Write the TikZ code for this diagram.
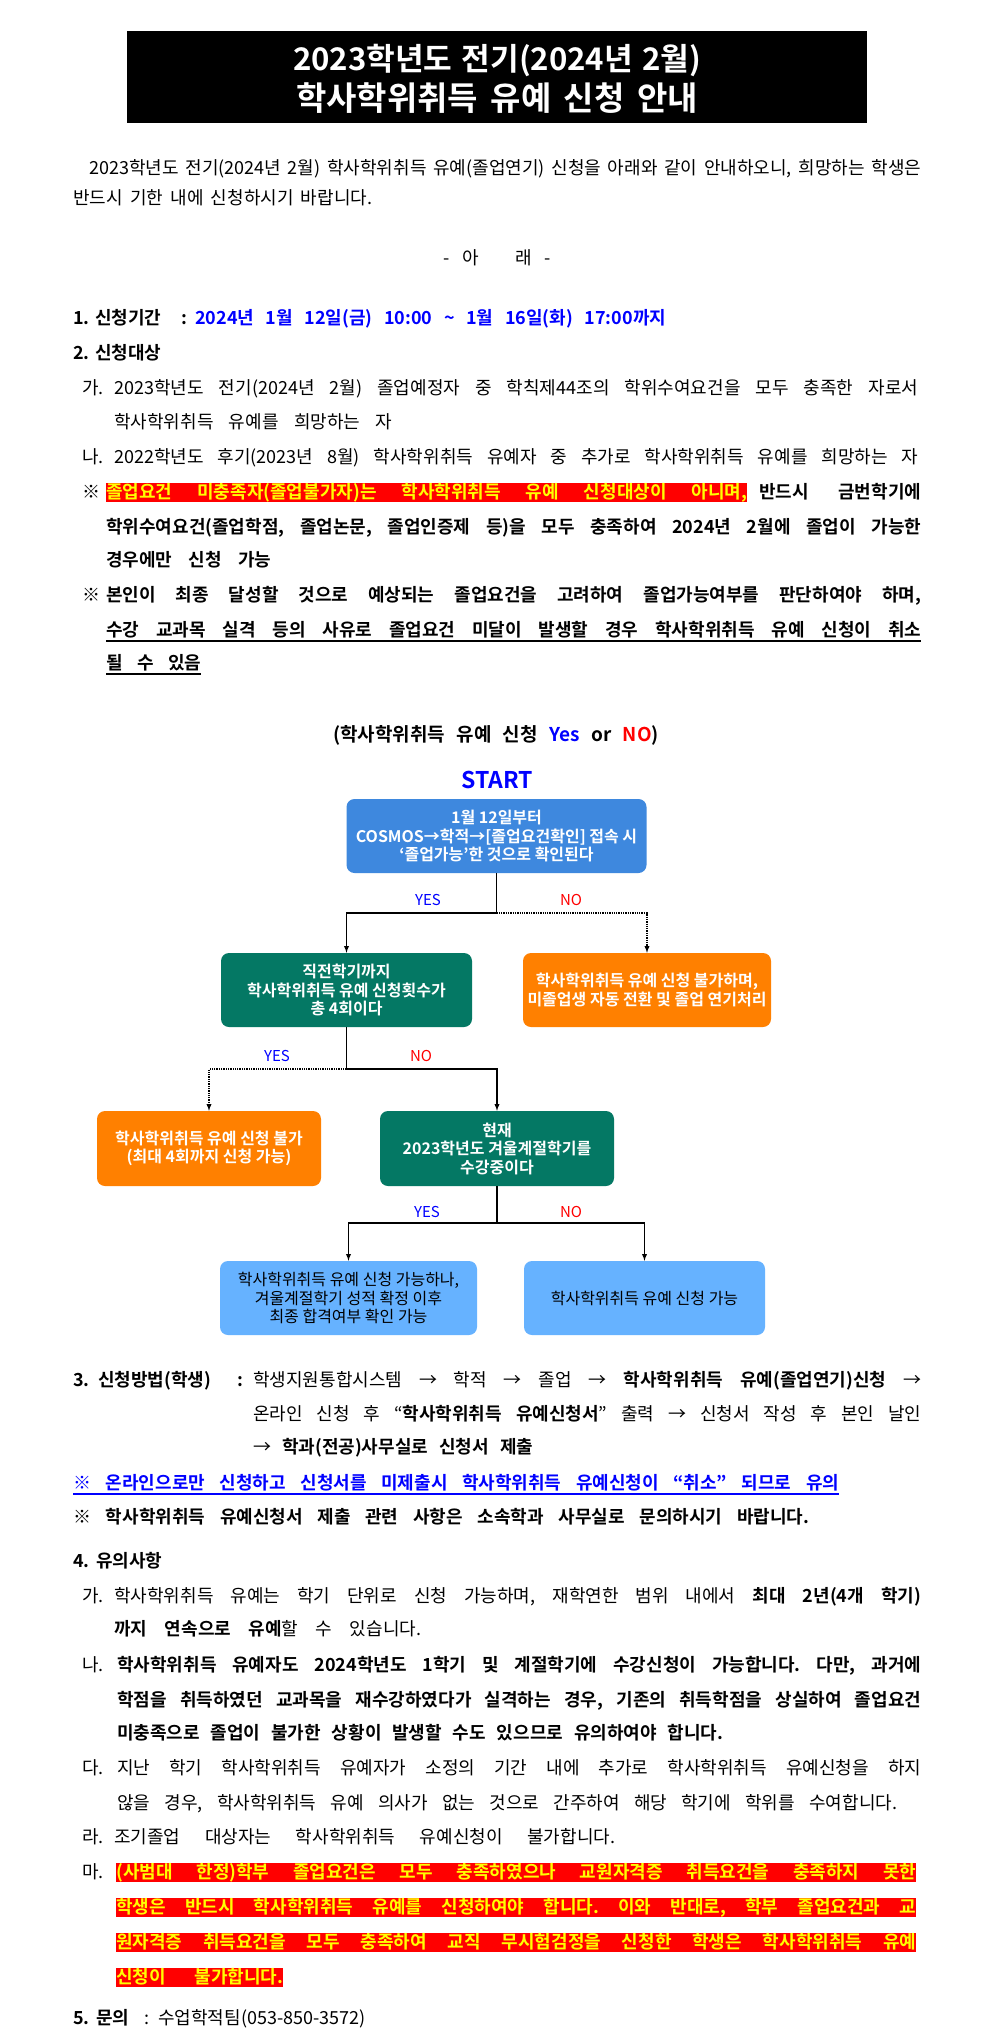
\documentclass[tikz,border=0pt]{standalone}
\usepackage{fontspec}
\setmainfont{Noto Sans CJK KR}[BoldFont={Noto Sans CJK KR Bold}]
\usepackage{xcolor}
\usetikzlibrary{arrows,positioning,calc}
\definecolor{flowblue}{RGB}{62,136,222}
\definecolor{flowgreen}{RGB}{4,120,100}
\definecolor{floworange}{RGB}{255,128,0}
\definecolor{flowsky}{RGB}{102,178,255}
\definecolor{markred}{RGB}{255,0,0}
\definecolor{markyellow}{RGB}{255,255,0}
\definecolor{textblue}{RGB}{0,0,255}
\newsavebox\linebox
\makeatletter
\newcommand{\fitline}[2]{%
  \sbox\linebox{#2}%
  \ifdim\wd\linebox>#1pt\relax
    \pgfmathsetmacro\fitsize{0.99*\f@size*#1/\wd\linebox}%
    {\fontsize{\fitsize}{\f@baselineskip}\selectfont\makebox[#1pt][s]{#2}}%
  \else\makebox[#1pt][s]{#2}\fi}
\makeatother
\tikzset{
  txt/.style={anchor=base west, inner sep=0pt, font=\fontsize{18}{20}\selectfont},
  btxt/.style={txt, font=\bfseries\fontsize{18}{20}\selectfont},
  hilite/.style={btxt, fill=markred, text=markyellow, text height=15.5pt, text depth=3.5pt},
  flowbox/.style={rounded corners=8pt, align=center, inner xsep=0pt, inner ysep=2pt, text=white,
    font=\bfseries\fontsize{16}{18.5}\selectfont},
  skybox/.style={flowbox, fill=flowsky, text=black, font=\fontsize{16}{18.5}\selectfont},
  yes/.style={text=textblue, font=\fontsize{15}{18}\selectfont},
  no/.style={text=markred, font=\fontsize{15}{18}\selectfont},
  link/.style={line width=1.3pt, -latex},
}
\begin{document}
\frenchspacing
\begin{tikzpicture}[x=1pt,y=-1pt]
	\fill[white] (0,0) rectangle (992,2040);
	\useasboundingbox (0,0) rectangle (992,2040);
	\node[fill=black, minimum width=740pt, minimum height=92pt, inner sep=0pt] (tbox) at (497,77) {};
	\node[anchor=base, inner sep=0pt, text=white, font=\bfseries\fontsize{33}{35}\selectfont] (t1) at (497,70) {\fitline{408}{2023학년도 전기(2024년 2월)}};
	\node[anchor=base, inner sep=0pt, text=white, font=\bfseries\fontsize{33}{35}\selectfont] (t2) at (497,110) {\fitline{402}{학사학위취득 유예 신청 안내}};

	\node[txt] (p1) at (89,174) {\fitline{832}{2023학년도 전기(2024년 2월) 학사학위취득 유예(졸업연기) 신청을 아래와 같이 안내하오니, 희망하는 학생은}};
	\node[txt] (p2) at (73,204) {\fitline{299}{반드시 기한 내에 신청하시기 바랍니다.}};
	\node[txt, anchor=base] (ar) at (497,264) {\makebox[108pt][s]{- 아\hspace{36pt}래 -}};

	\node[btxt] (i1n) at (73,324) {1.};
	\node[btxt] (i1) at (95,324) {\fitline{92}{신청기간 :}};
	\node[btxt, text=textblue] (i1d) at (195,324) {\fitline{471}{2024년 1월 12일(금) 10:00 \textasciitilde{} 1월 16일(화) 17:00까지}};
	\node[btxt] (i2n) at (73,359) {2.};
	\node[btxt] (i2) at (95,359) {신청대상};
	\node[txt] (i2a) at (82,394) {가.};
	\node[txt] (i2a1) at (114,394) {\fitline{804}{2023학년도 전기(2024년 2월) 졸업예정자 중 학칙제44조의 학위수여요건을 모두 충족한 자로서}};
	\node[txt] (i2a2) at (114,428) {\fitline{278}{학사학위취득 유예를 희망하는 자}};
	\node[txt] (i2b) at (82,463) {나.};
	\node[txt] (i2b1) at (114,463) {\fitline{804}{2022학년도 후기(2023년 8월) 학사학위취득 유예자 중 추가로 학사학위취득 유예를 희망하는 자}};
	\node[btxt] (i2c) at (82,498) {※};
	\node[hilite] (i2c1) at (106,498) {\fitline{641}{졸업요건 미충족자(졸업불가자)는 학사학위취득 유예 신청대상이 아니며,}};
	\node[btxt] (i2c2) at (759,498) {\fitline{162}{반드시 금번학기에}};
	\node[btxt] (i2c3) at (106,533) {\fitline{815}{학위수여요건(졸업학점, 졸업논문, 졸업인증제 등)을 모두 충족하여 2024년 2월에 졸업이 가능한}};
	\node[btxt] (i2c4) at (106,566) {\fitline{165}{경우에만 신청 가능}};
	\node[btxt] (i2d) at (82,601) {※};
	\node[btxt] (i2d1) at (106,601) {\fitline{815}{본인이 최종 달성할 것으로 예상되는 졸업요건을 고려하여 졸업가능여부를 판단하여야 하며,}};
	\node[btxt] (i2d2) at (106,636) {\fitline{815}{수강 교과목 실격 등의 사유로 졸업요건 미달이 발생할 경우 학사학위취득 유예 신청이 취소}};
	\node[btxt] (i2d3) at (106,669) {\fitline{95}{될 수 있음}};
	\draw[line width=1.2pt] ([yshift=-5pt]i2d2.base west) -- ([yshift=-5pt]i2d2.base east);
	\draw[line width=1.2pt] ([yshift=-5pt]i2d3.base west) -- ([yshift=-5pt]i2d3.base east);

	\node[inner sep=0pt, font=\bfseries\fontsize{19}{22}\selectfont] (sub) at (496,735) {\fitline{326}{(학사학위취득 유예 신청 {\color{textblue}Yes} or {\color{markred}NO})}};
	\node[inner sep=0pt, text=textblue, font=\bfseries\fontsize{23}{25}\selectfont] (start) at (497,780) {START};

	\node[flowbox, fill=flowblue, minimum width=300pt, minimum height=74pt] (b1) at (496.5,836) {1월 12일부터\\COSMOS→학적→[졸업요건확인] 접속 시\\‘졸업가능’한 것으로 확인된다};
	\node[flowbox, fill=flowgreen, minimum width=251pt, minimum height=74pt] (b2) at (346.5,990) {직전학기까지\\학사학위취득 유예 신청횟수가\\총 4회이다};
	\node[flowbox, fill=floworange, minimum width=248pt, minimum height=74pt] (b3) at (647,990) {학사학위취득 유예 신청 불가하며,\\미졸업생 자동 전환 및 졸업 연기처리};
	\node[flowbox, fill=floworange, minimum width=224pt, minimum height=75pt] (b4) at (209,1148.5) {학사학위취득 유예 신청 불가\\(최대 4회까지 신청 가능)};
	\node[flowbox, fill=flowgreen, minimum width=234pt, minimum height=75pt] (b5) at (497,1148.5) {현재\\2023학년도 겨울계절학기를\\수강중이다};
	\node[skybox, minimum width=257pt, minimum height=74pt] (b6) at (348.5,1298) {학사학위취득 유예 신청 가능하나,\\겨울계절학기 성적 확정 이후\\최종 합격여부 확인 가능};
	\node[skybox, minimum width=241pt, minimum height=74pt] (b7) at (644.5,1298) {학사학위취득 유예 신청 가능};

	\coordinate (j1) at (496.5,913);
	\coordinate (j2) at (346.5,1069);
	\coordinate (j3) at (497,1223);
	\draw[line width=1.3pt] (b1.south) -- (j1);
	\draw[link] (j1) -| (b2.north);
	\draw[link, densely dotted] (j1) -| (b3.north);
	\draw[line width=1.3pt] (b2.south) -- (j2);
	\draw[link, densely dotted] (j2) -| (b4.north);
	\draw[link] (j2) -| (b5.north);
	\draw[line width=1.3pt] (b5.south) -- (j3);
	\draw[link] (j3) -| (b6.north);
	\draw[link] (j3) -| (b7.north);
	\node[yes] (y1) at (428,900) {YES};
	\node[no] (n1) at (571,900) {NO};
	\node[yes] (y2) at (277,1056) {YES};
	\node[no] (n2) at (421,1056) {NO};
	\node[yes] (y3) at (427,1212) {YES};
	\node[no] (n3) at (571,1212) {NO};

	\node[btxt] (s3n) at (73,1386) {3.};
	\node[btxt] (s3) at (98,1386) {\fitline{145}{신청방법(학생) :}};
	\node[txt] (s3a) at (253,1386) {\fitline{668}{학생지원통합시스템 → 학적 → 졸업 → \textbf{학사학위취득 유예(졸업연기)신청} →}};
	\node[txt] (s3b) at (253,1420) {\fitline{668}{온라인 신청 후 “\textbf{학사학위취득 유예신청서}” 출력 → 신청서 작성 후 본인 날인}};
	\node[txt] (s3c) at (253,1453) {\fitline{280}{→ \textbf{학과(전공)사무실로 신청서 제출}}};
	\node[btxt, text=textblue] (s3d) at (73,1489) {\fitline{766}{※ 온라인으로만 신청하고 신청서를 미제출시 학사학위취득 유예신청이 “취소” 되므로 유의}};
	\draw[textblue, line width=1.2pt] ([yshift=-5pt]s3d.base west) -- ([yshift=-5pt]s3d.base east);
	\node[btxt] (s3e) at (73,1523) {\fitline{736}{※ 학사학위취득 유예신청서 제출 관련 사항은 소속학과 사무실로 문의하시기 바랍니다.}};

	\node[btxt] (s4n) at (73,1567) {4.};
	\node[btxt] (s4) at (96,1567) {유의사항};
	\node[txt] (s4a) at (82,1602) {가.};
	\node[txt] (s4a1) at (114,1602) {\fitline{807}{학사학위취득 유예는 학기 단위로 신청 가능하며, 재학연한 범위 내에서 \textbf{최대 2년(4개 학기)}}};
	\node[txt] (s4a2) at (114,1635) {\fitline{307}{\textbf{까지 연속으로 유예}할 수 있습니다.}};
	\node[txt] (s4b) at (82,1671) {나.};
	\node[btxt] (s4b1) at (117,1671) {\fitline{804}{학사학위취득 유예자도 2024학년도 1학기 및 계절학기에 수강신청이 가능합니다. 다만, 과거에}};
	\node[btxt] (s4b2) at (117,1706) {\fitline{804}{학점을 취득하였던 교과목을 재수강하였다가 실격하는 경우, 기존의 취득학점을 상실하여 졸업요건}};
	\node[btxt] (s4b3) at (117,1739) {\fitline{606}{미충족으로 졸업이 불가한 상황이 발생할 수도 있으므로 유의하여야 합니다.}};
	\node[txt] (s4c) at (82,1774) {다.};
	\node[txt] (s4c1) at (117,1774) {\fitline{804}{지난 학기 학사학위취득 유예자가 소정의 기간 내에 추가로 학사학위취득 유예신청을 하지}};
	\node[txt] (s4c2) at (117,1809) {\fitline{780}{않을 경우, 학사학위취득 유예 의사가 없는 것으로 간주하여 해당 학기에 학위를 수여합니다.}};
	\node[txt] (s4d) at (82,1843) {라.};
	\node[txt] (s4d1) at (114,1843) {\fitline{501}{조기졸업 대상자는 학사학위취득 유예신청이 불가합니다.}};
	\node[txt] (s4e) at (82,1878) {마.};
	\node[hilite] (s4e1) at (116,1878) {\fitline{800}{(사범대 한정)학부 졸업요건은 모두 충족하였으나 교원자격증 취득요건을 충족하지 못한}};
	\node[hilite] (s4e2) at (116,1913) {\fitline{800}{학생은 반드시 학사학위취득 유예를 신청하여야 합니다. 이와 반대로, 학부 졸업요건과 교}};
	\node[hilite] (s4e3) at (116,1948) {\fitline{800}{원자격증 취득요건을 모두 충족하여 교직 무시험검정을 신청한 학생은 학사학위취득 유예}};
	\node[hilite] (s4e4) at (116,1983) {\fitline{167}{신청이 불가합니다.}};

	\node[btxt] (s5n) at (73,2024) {5.};
	\node[btxt] (s5) at (96,2024) {문의};
	\node[txt] (s5c) at (144,2024) {:};
	\node[txt] (s5t) at (158,2024) {\fitline{226}{수업학적팀(053-850-3572)}};
\end{tikzpicture}
\end{document}
